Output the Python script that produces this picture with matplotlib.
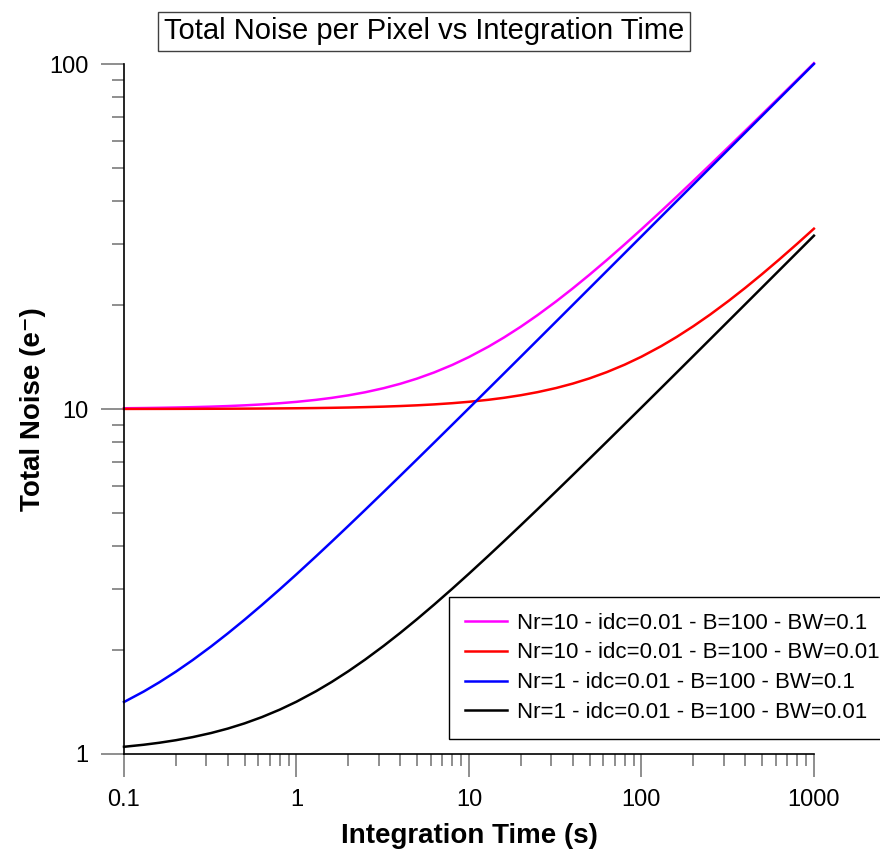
import matplotlib
matplotlib.use("Agg")
import matplotlib.pyplot as plt
from matplotlib.ticker import LogLocator, NullFormatter, FuncFormatter

plt.rcParams['font.family'] = ['Liberation Sans', 'DejaVu Sans']

# integration time (s)
t = [0.1, 0.13, 0.16, 0.2, 0.25, 0.32, 0.4, 0.5, 0.63, 0.8,
     1, 1.3, 1.6, 2, 2.5, 3.2, 4, 5, 6.3, 8,
     10, 13, 16, 20, 25, 32, 40, 50, 63, 80,
     100, 130, 160, 200, 250, 320, 400, 500, 630, 800, 1000]

# total noise (e-)
nr10_bw01 = [10.050, 10.065, 10.080, 10.100, 10.124, 10.159, 10.198, 10.247, 10.311, 10.393,
             10.489, 10.631, 10.771, 10.955, 11.181, 11.491, 11.834, 12.250, 12.770, 13.419,
             14.146, 15.170, 16.130, 17.326, 18.715, 20.502, 22.370, 24.505, 27.030, 30.013,
             33.181, 37.434, 41.250, 45.848, 51.015, 57.474, 64.062, 71.449, 80.039, 90.044,
             100.55]
nr10_bw001 = [10.005, 10.007, 10.008, 10.010, 10.013, 10.016, 10.020, 10.025, 10.032, 10.040,
              10.050, 10.065, 10.080, 10.100, 10.126, 10.160, 10.200, 10.249, 10.313, 10.396,
              10.493, 10.636, 10.778, 10.964, 11.192, 11.503, 11.849, 12.268, 12.792, 13.446,
              14.177, 15.209, 16.174, 17.378, 18.775, 20.572, 22.450, 24.597, 27.135, 30.133,
              33.317]
nr1_bw01 = [1.4146, 1.5170, 1.6130, 1.7326, 1.8715, 2.0502, 2.2370, 2.4505, 2.7030, 3.0013,
            3.3181, 3.7434, 4.1250, 4.5848, 5.1015, 5.7474, 6.4062, 7.1449, 8.0039, 9.0044,
            10.055, 11.451, 12.695, 14.184, 15.851, 17.925, 20.035, 22.394, 25.132, 28.316,
            31.654, 36.088, 40.032, 44.755, 50.035, 56.606, 63.285, 70.753, 79.418, 89.493,
            100.055]
nr1_bw001 = [1.0493, 1.0636, 1.0778, 1.0964, 1.1192, 1.1503, 1.1849, 1.2268, 1.2792, 1.3446,
             1.4177, 1.5209, 1.6174, 1.7378, 1.8775, 2.0572, 2.2450, 2.4597, 2.7135, 3.0133,
             3.3317, 3.7590, 4.1425, 4.6043, 5.1235, 5.7724, 6.4343, 7.1764, 8.0393, 9.0443,
             10.0995, 11.502, 12.751, 14.248, 15.922, 18.006, 20.125, 22.494, 25.245, 28.443,
             31.796]

labels = ['Nr=10 - idc=0.01 - B=100 - BW=0.1',
          'Nr=10 - idc=0.01 - B=100 - BW=0.01',
          'Nr=1 - idc=0.01 - B=100 - BW=0.1',
          'Nr=1 - idc=0.01 - B=100 - BW=0.01']
series = [nr10_bw01, nr10_bw001, nr1_bw01, nr1_bw001]
colors = ['#ff00ff', '#ff0000', '#0000ff', '#000000']

fig = plt.figure(figsize=(8.8, 8.49), dpi=100)
ax = fig.add_axes([0.1409, 0.1119, 0.784, 0.8127])

for y, lab, c in zip(series, labels, colors):
    ax.plot(t, y, color=c, lw=1.8, label=lab, clip_on=False)

ax.set_xscale('log')
ax.set_yscale('log')
ax.set_xlim(0.1, 1000)
ax.set_ylim(1, 100)

for s in ['top', 'right']:
    ax.spines[s].set_visible(False)
for s in ['left', 'bottom']:
    ax.spines[s].set_linewidth(1.2)

fmt = FuncFormatter(lambda v, _: f'{v:g}')
for axis in [ax.xaxis, ax.yaxis]:
    axis.set_major_locator(LogLocator(base=10))
    axis.set_minor_locator(LogLocator(base=10, subs=range(2, 10)))
    axis.set_major_formatter(fmt)
    axis.set_minor_formatter(NullFormatter())

ax.tick_params(which='major', direction='out', length=16.5, width=1.1,
               color='#707070', labelsize=17, pad=9)
ax.tick_params(which='minor', direction='out', length=8.5, width=1.1,
               color='#707070')

ax.set_xlabel('Integration Time (s)', fontsize=20, fontweight='bold', labelpad=8)
ax.set_ylabel('Total Noise (e\u207b)', fontsize=20, fontweight='bold', labelpad=2)

fig.text(0.482, 0.963, 'Total Noise per Pixel vs Integration Time', fontsize=21,
         ha='center', va='center',
         bbox=dict(boxstyle='square,pad=0.2', fc='white', ec='#404040', lw=1))

leg = fig.legend(loc='upper left', bbox_to_anchor=(449 / 880, 1 - 597 / 849),
                 fontsize=16, handlelength=1.9, handletextpad=0.45,
                 labelspacing=0.4, borderpad=0.7, borderaxespad=0,
                 fancybox=False, framealpha=1, edgecolor='black')
leg.get_frame().set_linewidth(1)

fig.savefig('out.png', dpi=100)
